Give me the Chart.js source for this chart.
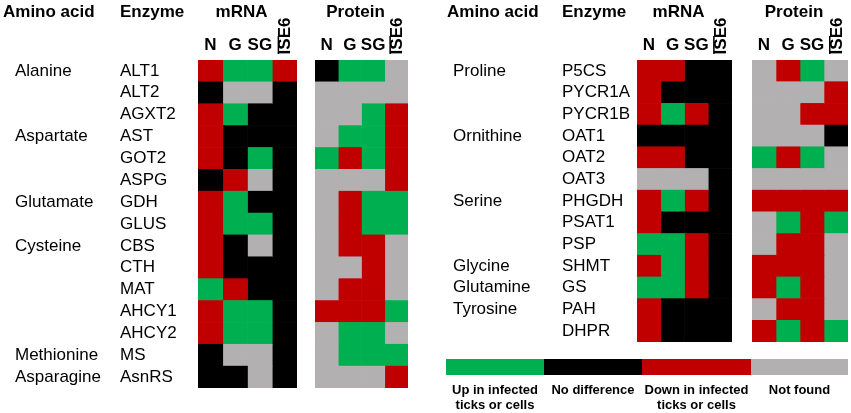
<!DOCTYPE html>
<html lang="en">
<head>
<meta charset="UTF-8">
<title>Amino acid metabolism heatmap</title>
<script src="https://cdn.jsdelivr.net/npm/chart.js"></script>
<style>
  body { margin: 0; background: #fff; }
  #wrap { position: relative; width: 851px; height: 413px; overflow: hidden; font-family: "Liberation Sans", Arial, sans-serif; }
  #wrap canvas { position: absolute; left: 0; top: 0; }
  #legend { position: absolute; left: 446px; top: 359px; display: flex; }
  .seg { display: flex; flex-direction: column; align-items: center; }
  .swatch { height: 16px; width: 100%; }
  .seg span { margin-top: 7px; font-size: 13px; font-weight: bold; line-height: 15px; text-align: center; color: #000; }
</style>
</head>
<body>
<div id="wrap">
  <canvas id="leftMrna" width="851" height="413"></canvas>
  <canvas id="leftProt" width="851" height="413"></canvas>
  <canvas id="rightMrna" width="851" height="413"></canvas>
  <canvas id="rightProt" width="851" height="413"></canvas>
  <div id="legend"></div>
</div>
<script>
// colour codes: G up, K no difference, R down, Y not found
const palette = { G: '#00b050', K: '#000000', R: '#c00000', Y: '#b2b0b0' };
const columns = ['N', 'G', 'SG', 'ISE6'];

// left block
const leftEnzymes = ['ALT1', 'ALT2', 'AGXT2', 'AST', 'GOT2', 'ASPG', 'GDH', 'GLUS', 'CBS', 'CTH', 'MAT', 'AHCY1', 'AHCY2', 'MS', 'AsnRS'];
const leftAminoNames = ['Alanine', 'Aspartate', 'Glutamate', 'Cysteine', 'Methionine', 'Asparagine'];
const leftAminoRows = [0, 3, 6, 8, 13, 14];
const leftMrna = ['RGGR', 'KYYK', 'RGKK', 'RKKK', 'RKGK', 'KRYK', 'RGKK', 'RGGK', 'RKYK', 'RKKK', 'GRKK', 'RGGK', 'RGGK', 'KYYK', 'KKYK'];
const leftProtein = ['KGGY', 'YYYY', 'YYGR', 'YGGR', 'GRGR', 'YYYR', 'YRGG', 'YRGG', 'YRRY', 'YYRY', 'YRRY', 'RRRG', 'YGGY', 'YGGG', 'YYYR'];

// right block
const rightEnzymes = ['P5CS', 'PYCR1A', 'PYCR1B', 'OAT1', 'OAT2', 'OAT3', 'PHGDH', 'PSAT1', 'PSP', 'SHMT', 'GS', 'PAH', 'DHPR'];
const rightAminoNames = ['Proline', 'Ornithine', 'Serine', 'Glycine', 'Glutamine', 'Tyrosine'];
const rightAminoRows = [0, 3, 6, 9, 10, 11];
const rightMrna = ['RRKK', 'RKKK', 'RGRK', 'KKKK', 'RRKK', 'YYYK', 'RGRK', 'RKKK', 'GGRK', 'RGRK', 'GGRK', 'RKKK', 'RKKK'];
const rightProtein = ['YRGY', 'YYYR', 'YYRR', 'YYYK', 'GRGY', 'YYYY', 'RRRR', 'YGRG', 'YRRY', 'RRRY', 'RGRY', 'YRRY', 'RGRG'];

// legend
const legendLabels = [['Up in infected', 'ticks or cells'], ['No difference'], ['Down in infected', 'ticks or cells'], ['Not found']];
const legendCodes = ['G', 'K', 'R', 'Y'];
const legendWidths = [98, 98, 109, 97];

const FONT = '"Liberation Sans", Arial, sans-serif';

function makePanel(canvasId, title, enzymes, codes, area, labels) {
    const textPlugin = {
        id: 'panelText',
        afterDraw(chart) {
            const ctx = chart.ctx;
            const xs = chart.scales.x, ys = chart.scales.y;
            ctx.save();
            ctx.fillStyle = '#000';
            ctx.textBaseline = 'middle';

            // panel title
            ctx.font = 'bold 17px ' + FONT;
            ctx.textAlign = 'center';
            ctx.fillText(title, (chart.chartArea.left + chart.chartArea.right) / 2 - 6, 12);

            // column headers
            columns.forEach((c, j) => {
                const x = xs.getPixelForValue(j + 0.5);
                if (c === 'ISE6') {
                    ctx.save();
                    ctx.translate(x + 1, 36);
                    ctx.rotate(-Math.PI / 2);
                    ctx.textAlign = 'center';
                    ctx.fillText(c, 0, 0);
                    ctx.restore();
                    ctx.fillRect(x - 7, 36, 1.5, 18);
                } else {
                    ctx.fillText(c, x, 45);
                }
            });

            if (labels) {
                ctx.textAlign = 'left';
                ctx.font = 'bold 17px ' + FONT;
                ctx.fillText('Amino acid', labels.headX, 12);
                ctx.fillText('Enzyme', labels.enzX, 12);
                ctx.font = '17px ' + FONT;
                enzymes.forEach((e, i) => ctx.fillText(e, labels.enzX, ys.getPixelForValue(i)));
                labels.names.forEach((n, k) => ctx.fillText(n, labels.aminoX, ys.getPixelForValue(labels.rows[k])));
            }
            ctx.restore();
        }
    };

    return new Chart(document.getElementById(canvasId), {
        type: 'bar',
        data: {
            labels: enzymes,
            datasets: columns.map((c, j) => ({
                label: c,
                data: enzymes.map(() => 1),
                backgroundColor: codes.map(row => palette[row[j]]),
                borderWidth: 0,
                barPercentage: 1,
                categoryPercentage: 1,
                stack: 'cells'
            }))
        },
        options: {
            indexAxis: 'y',
            responsive: false,
            animation: false,
            layout: {
                padding: { left: area.left, right: 851 - area.right, top: area.top, bottom: 413 - area.bottom }
            },
            scales: {
                x: { stacked: true, min: 0, max: 4, display: false },
                y: { stacked: true, display: false }
            },
            plugins: { legend: { display: false }, tooltip: { enabled: false } }
        },
        plugins: [textPlugin]
    });
}

makePanel('leftMrna', 'mRNA', leftEnzymes, leftMrna, { left: 198, right: 297, top: 60, bottom: 388 },
    { headX: 3, enzX: 120, aminoX: 15, names: leftAminoNames, rows: leftAminoRows });
makePanel('leftProt', 'Protein', leftEnzymes, leftProtein, { left: 315, right: 408, top: 60, bottom: 388 }, null);
makePanel('rightMrna', 'mRNA', rightEnzymes, rightMrna, { left: 637, right: 732, top: 60, bottom: 342 },
    { headX: 447, enzX: 562, aminoX: 453, names: rightAminoNames, rows: rightAminoRows });
makePanel('rightProt', 'Protein', rightEnzymes, rightProtein, { left: 752, right: 848, top: 60, bottom: 342 }, null);

// legend bar + captions
const legend = document.getElementById('legend');
legendLabels.forEach((lines, i) => {
    const seg = document.createElement('div');
    seg.className = 'seg';
    seg.style.width = legendWidths[i] + 'px';
    seg.innerHTML = `<div class="swatch" style="background:${palette[legendCodes[i]]}"></div><span>${lines.join('<br>')}</span>`;
    legend.appendChild(seg);
});
</script>
</body>
</html>
